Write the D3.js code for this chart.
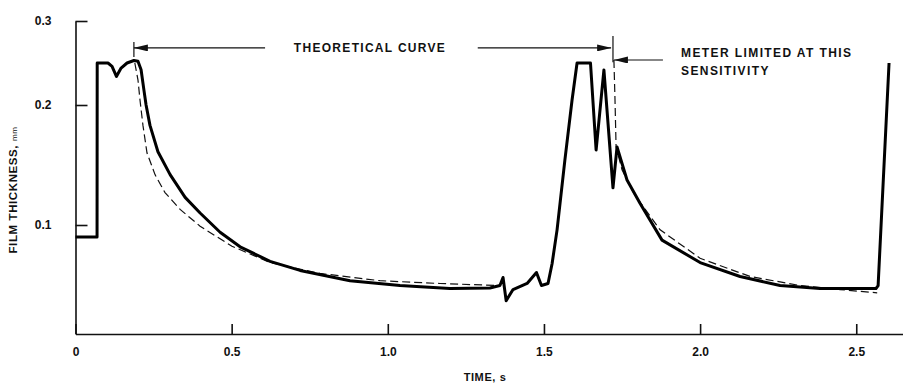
<!DOCTYPE html>
<html><head><meta charset="utf-8">
<script src="https://cdn.jsdelivr.net/npm/d3@7"></script>
<style>
body{margin:0;background:#fff;}
text{font-family:"Liberation Sans",Arial,sans-serif;font-weight:bold;fill:#111;}
</style></head>
<body><svg id="c" width="903" height="384"></svg>
<script>
// time (s), film thickness (mm)
const measuredT = [0.0,0.069,0.0695,0.104,0.117,0.131,0.146,0.165,0.187,0.200,0.210,0.219,0.226,0.2385,0.264,0.303,0.351,0.399,0.463,0.527,0.623,0.719,0.879,1.039,1.199,1.327,1.359,1.369,1.379,1.401,1.446,1.476,1.492,1.513,1.526,1.542,1.567,1.590,1.606,1.649,1.667,1.692,1.721,1.734,1.766,1.808,1.878,2.0,2.128,2.256,2.384,2.563,2.570,2.605];
const measuredV = [0.090,0.090,0.250,0.250,0.246,0.234,0.244,0.250,0.253,0.252,0.242,0.218,0.200,0.183,0.161,0.142,0.123,0.110,0.094,0.082,0.070,0.0625,0.054,0.050,0.0475,0.048,0.050,0.0567,0.0375,0.0467,0.0517,0.0608,0.050,0.0517,0.068,0.096,0.154,0.206,0.250,0.250,0.1625,0.2417,0.131,0.165,0.1375,0.118,0.0875,0.069,0.0575,0.050,0.0475,0.0475,0.050,0.250];
const theory1T = [0.190,0.200,0.2065,0.216,0.229,0.2546,0.2866,0.335,0.399,0.501,0.623,0.783,0.975,1.167,1.359];
const theory1V = [0.250,0.230,0.206,0.183,0.160,0.142,0.127,0.113,0.099,0.0825,0.069,0.060,0.054,0.0517,0.050];
const theory2T = [1.724,1.7275,1.731,1.750,1.791,1.872,2.0,2.16,2.32,2.448,2.567];
const theory2V = [0.2536,0.206,0.165,0.146,0.125,0.096,0.0725,0.0575,0.050,0.0467,0.044];
const xTicks = [0, 0.5, 1.0, 1.5, 2.0, 2.5];
const xTickLabels = ["0","0.5","1.0","1.5","2.0","2.5"];
const yTicks = [0.1, 0.2, 0.3];
const yTickLabels = ["0.1","0.2","0.3"];

const svg = d3.select("#c");
const x = d3.scaleLinear().domain([0, 2.65]).range([75.5, 903.1]);
const y = d3.scaleLinear().domain([0.01, 0.1, 0.2, 0.3]).range([334, 225, 105, 21]);

// axes
const xa = svg.append("g").attr("transform", `translate(0,${y(0.01)})`)
  .call(d3.axisBottom(x).tickValues(xTicks).tickFormat((d,i)=>xTickLabels[i]).tickSize(-10).tickSizeOuter(0).tickPadding(13));
const ya = svg.append("g").attr("transform", `translate(${x(0)},0)`)
  .call(d3.axisLeft(y).tickValues(yTicks).tickFormat((d,i)=>yTickLabels[i]).tickSize(-12).tickSizeOuter(0).tickPadding(24));
[xa, ya].forEach(g => {
  g.selectAll("path,line").attr("stroke", "#111").attr("stroke-width", 1.6);
  g.selectAll("text").attr("font-size", 12).attr("font-family", '"Liberation Sans",Arial,sans-serif').attr("font-weight","bold").attr("fill","#111");
});

const line = d3.line().x(d => x(d[0])).y(d => y(d[1]));
const zip = (a, b) => a.map((v, i) => [v, b[i]]);

svg.append("path").attr("d", line(zip(theory1T, theory1V))).attr("fill","none").attr("stroke","#111").attr("stroke-width",1.2).attr("stroke-dasharray","8,4");
svg.append("path").attr("d", line(zip(theory2T, theory2V))).attr("fill","none").attr("stroke","#111").attr("stroke-width",1.2).attr("stroke-dasharray","8,4");
svg.append("path").attr("d", line(zip(measuredT, measuredV))).attr("fill","none").attr("stroke","#000").attr("stroke-width",3).attr("stroke-linejoin","round");

// annotations
const defs = svg.append("defs");
defs.append("marker").attr("id","ah").attr("viewBox","0 0 12 6").attr("refX",12).attr("refY",3)
  .attr("markerWidth",14).attr("markerHeight",7).attr("markerUnits","userSpaceOnUse").attr("orient","auto")
  .append("path").attr("d","M0,0 L12,3 L0,6 Z").attr("fill","#111");

const arrows = [
  {from:[0.607,0.268], to:[0.187,0.268]},
  {from:[1.288,0.268], to:[1.715,0.268]},
  {from:[1.881,0.2536], to:[1.724,0.2536]}
];
arrows.forEach(a => svg.append("line").attr("x1",x(a.from[0])).attr("y1",y(a.from[1])).attr("x2",x(a.to[0])).attr("y2",y(a.to[1]))
  .attr("stroke","#111").attr("stroke-width",1.2).attr("marker-end","url(#ah)"));
const markers = [
  {t:0.187, v0:0.275, v1:0.257},
  {t:1.721, v0:0.282, v1:0.251}
];
markers.forEach(m => svg.append("line").attr("x1",x(m.t)).attr("x2",x(m.t)).attr("y1",y(m.v0)).attr("y2",y(m.v1)).attr("stroke","#111").attr("stroke-width",1.2));

svg.append("text").attr("x", x(0.943)).attr("y", y(0.268)).attr("dy","0.35em").attr("text-anchor","middle").attr("font-size",12).attr("letter-spacing",1.3).text("THEORETICAL CURVE");
svg.append("text").attr("x", x(1.939)).attr("y", y(0.257)).attr("font-size",12).attr("letter-spacing",1.4).text("METER LIMITED AT THIS");
svg.append("text").attr("x", x(1.939)).attr("y", y(0.2357)).attr("font-size",12).attr("letter-spacing",1.4).text("SENSITIVITY");

svg.append("text").attr("x", 485).attr("y", 381).attr("text-anchor","middle").attr("font-size",11).attr("letter-spacing",0.6).text("TIME, s");
const yl = svg.append("text").attr("transform","translate(17,190) rotate(-90)").attr("text-anchor","middle").attr("font-size",11.5).attr("letter-spacing",0.6);
yl.append("tspan").text("FILM THICKNESS, ");
yl.append("tspan").attr("font-size",8).attr("font-weight","normal").text("mm");
</script></body></html>
